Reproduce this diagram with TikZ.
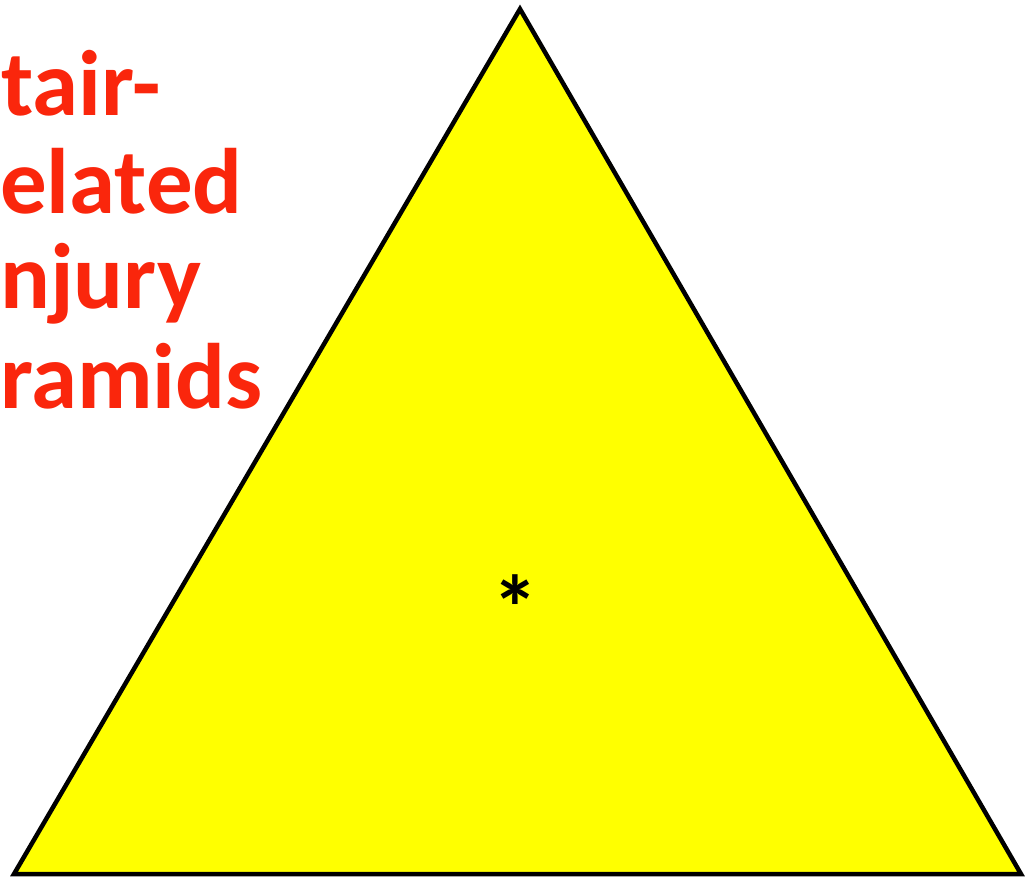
\documentclass[tikz,border=0pt]{standalone}
\usepackage{fontspec}
\setmainfont{Carlito}
\definecolor{titlered}{RGB}{250,38,12}
\definecolor{tri}{RGB}{255,255,0}
\tikzset{
  title/.style={font=\fontsize{93}{93}\selectfont\bfseries, text=titlered, inner sep=0pt, anchor=base west},
  pyr/.style={draw=black, line width=4.5pt, fill=tri, line join=miter}
}
\begin{document}
\begin{tikzpicture}[x=1pt,y=-1pt]
\useasboundingbox (0,0) rectangle (1031,876);
\coordinate (apex) at (520,9);
\coordinate (bl) at (14,874);
\coordinate (br) at (1021,874);
\clip (0,0) rectangle (1031,876);
\draw[pyr] (bl) -- (apex) -- (br) -- cycle;
\node[title] (l1) at (1,115) {tair-};
\node[title] (l2) at (0,213) {elated};
\node[title] (l3) at (0,308) {njury};
\node[title] (l4) at (0,408) {ramids};
\node[font=\fontsize{92}{92}\selectfont\bfseries, inner sep=0pt, anchor=base] (star) at (515,640) {*};
\end{tikzpicture}
\end{document}
